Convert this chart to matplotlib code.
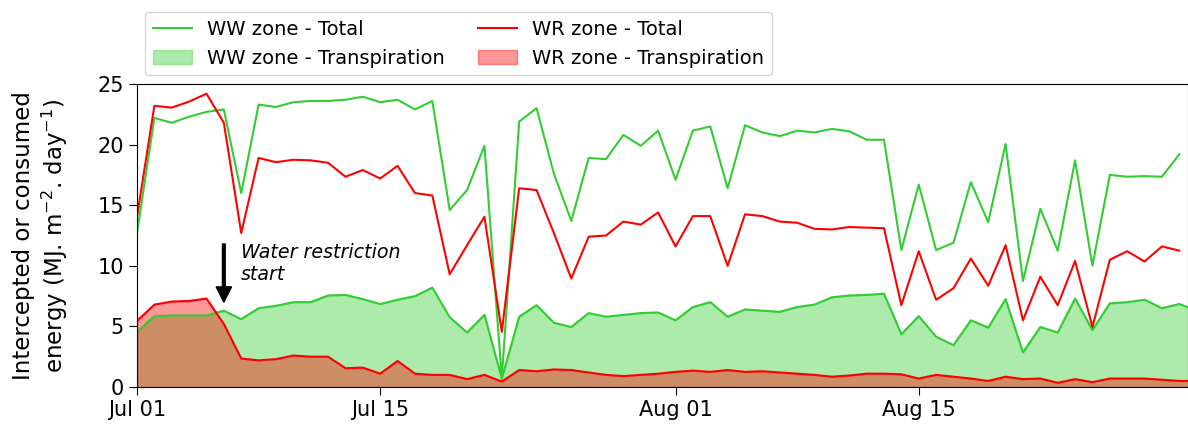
import numpy as np
import pandas as pd
import matplotlib
matplotlib.use('Agg')
import matplotlib.pyplot as plt
import matplotlib.dates as mdates

# daily values, Jul 01 onwards
ww_total = [12.7, 22.2, 21.8, 22.3, 22.7, 22.9, 16.0, 23.3, 23.1, 23.5,
            23.6, 23.6, 23.7, 23.95, 23.5, 23.7, 22.9, 23.6, 14.6, 16.25,
            19.9, 0.7, 21.9, 23.0, 17.6, 13.7, 18.9, 18.8, 20.8, 19.9,
            21.15, 17.1, 21.15, 21.5, 16.4, 21.6, 21.0, 20.7, 21.15, 21.0,
            21.3, 21.1, 20.4, 20.4, 11.3, 16.7, 11.3, 11.9, 16.9, 13.6,
            20.05, 8.75, 14.7, 11.25, 18.7, 10.0, 17.5, 17.35, 17.4, 17.35,
            19.2]
wr_total = [14.05, 23.2, 23.05, 23.55, 24.2, 21.8, 12.7, 18.9, 18.55, 18.75,
            18.7, 18.5, 17.35, 17.9, 17.2, 18.25, 16.0, 15.8, 9.3, 11.7,
            14.05, 4.55, 16.4, 16.25, 12.7, 8.95, 12.4, 12.5, 13.65, 13.4,
            14.4, 11.6, 14.1, 14.1, 10.0, 14.25, 14.1, 13.65, 13.55, 13.05,
            13.0, 13.2, 13.15, 13.1, 6.75, 11.2, 7.2, 8.15, 10.6, 8.35,
            11.7, 5.5, 9.1, 6.75, 10.4, 4.95, 10.5, 11.2, 10.35, 11.6,
            11.25]
ww_transp = [4.55, 5.85, 5.9, 5.9, 5.9, 6.3, 5.6, 6.5, 6.7, 7.0,
             7.0, 7.55, 7.6, 7.25, 6.85, 7.2, 7.5, 8.2, 5.75, 4.5,
             5.95, 0.7, 5.8, 6.75, 5.3, 4.95, 6.1, 5.8, 5.95, 6.1,
             6.15, 5.5, 6.6, 7.0, 5.8, 6.4, 6.3, 6.2, 6.6, 6.8,
             7.4, 7.55, 7.6, 7.7, 4.35, 5.85, 4.15, 3.45, 5.5, 4.9,
             7.25, 2.85, 4.95, 4.5, 7.3, 4.7, 6.9, 7.0, 7.2, 6.5,
             6.85, 6.3]
wr_transp = [5.45, 6.8, 7.05, 7.1, 7.3, 5.2, 2.35, 2.2, 2.3, 2.6,
             2.5, 2.5, 1.55, 1.6, 1.1, 2.15, 1.1, 1.0, 1.0, 0.65,
             1.0, 0.45, 1.4, 1.3, 1.45, 1.4, 1.2, 1.0, 0.9, 1.0,
             1.1, 1.25, 1.35, 1.25, 1.4, 1.25, 1.3, 1.2, 1.1, 1.0,
             0.85, 0.95, 1.1, 1.1, 1.05, 0.7, 1.0, 0.85, 0.7, 0.5,
             0.85, 0.65, 0.7, 0.35, 0.65, 0.4, 0.7, 0.7, 0.7, 0.6,
             0.5, 0.5]

start = pd.Timestamp('2021-07-01')
d_total = pd.date_range(start, periods=len(ww_total), freq='D')
d_transp = pd.date_range(start, periods=len(ww_transp), freq='D')
restriction_day = pd.Timestamp('2021-07-06')
tick_dates = pd.to_datetime(['2021-07-01', '2021-07-15', '2021-08-01', '2021-08-15'])

fig = plt.figure(figsize=(11.88, 4.3), dpi=100)
ax = fig.add_axes([137/1188, 43/430, 1 - 137/1188, 303/430])

g = 'limegreen'
r = 'red'
ax.fill_between(d_transp, 0, ww_transp, color=g, alpha=0.4, label='WW zone - Transpiration')
ax.fill_between(d_transp, 0, wr_transp, color=r, alpha=0.4, label='WR zone - Transpiration')
ax.plot(d_transp, ww_transp, color=g, lw=1.5)
ax.plot(d_transp, wr_transp, color=r, lw=1.5)
ax.plot(d_total, ww_total, color=g, lw=1.5, label='WW zone - Total')
ax.plot(d_total, wr_total, color=r, lw=1.5, label='WR zone - Total')

ax.annotate('', xy=(restriction_day, 7.0), xytext=(restriction_day, 11.8),
            arrowprops=dict(facecolor='black', edgecolor='black', width=2,
                            headwidth=11, headlength=11, shrink=0))
ax.text(restriction_day + pd.Timedelta(days=1), 10.15, 'Water restriction\nstart',
        fontsize=13.7, style='italic', ha='left', va='center')

ax.set_ylim(0, 25)
ax.set_xlim(start, start + pd.Timedelta(days=60.5))
ax.set_xticks(tick_dates)
ax.xaxis.set_major_formatter(mdates.DateFormatter('%b %d'))
ax.tick_params(labelsize=15, length=6)
ax.set_ylabel('Intercepted or consumed\nenergy (MJ. m$^{-2}$. day$^{-1}$)', fontsize=16.5,
              labelpad=20)

h, l = ax.get_legend_handles_labels()
order = [2, 0, 3, 1]
ax.legend([h[i] for i in order], [l[i] for i in order], ncol=2, fontsize=14,
          columnspacing=1.7, loc='upper left', bbox_to_anchor=(145/1188, 1 - 12/430),
          bbox_transform=fig.transFigure, borderaxespad=0)

plt.savefig('out.png', dpi=100)
